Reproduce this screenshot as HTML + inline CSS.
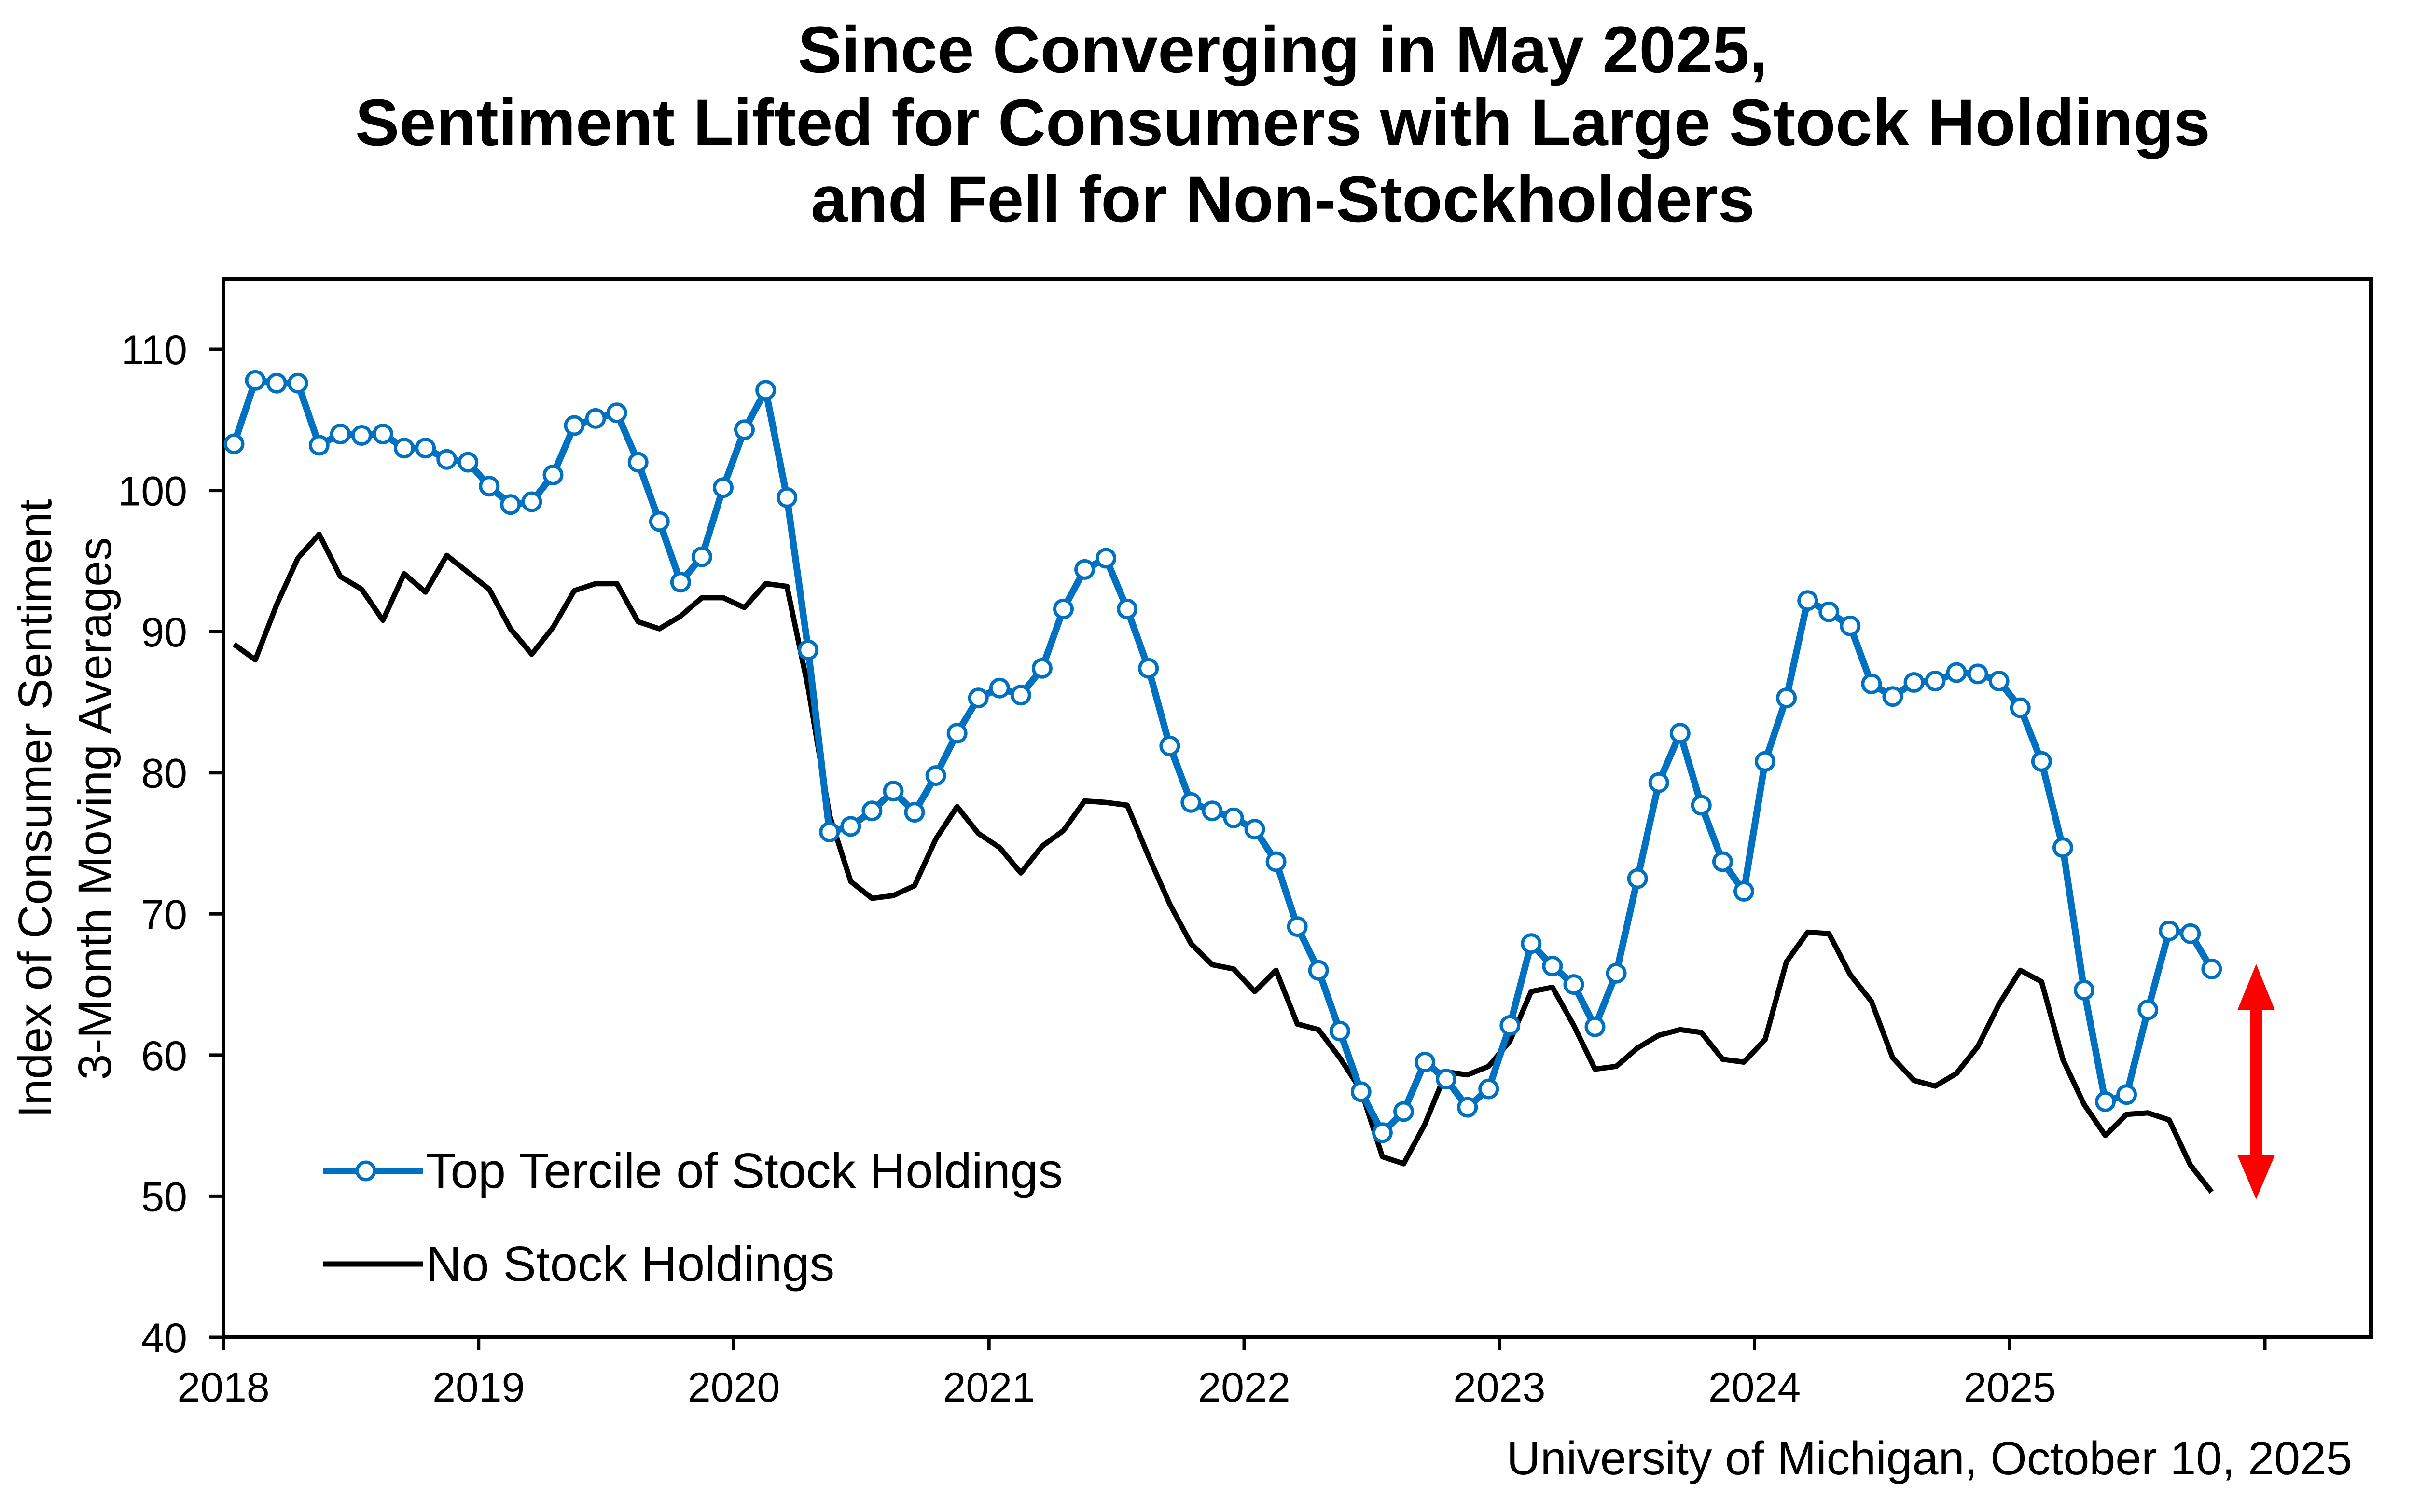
<!DOCTYPE html>
<html><head><meta charset="utf-8"><style>
html,body{margin:0;padding:0;background:#fff;}
svg{display:block;}
text{font-family:"Liberation Sans",Arial,sans-serif;fill:#000;}
</style></head><body>
<svg id="s" width="5120" height="3134" viewBox="0 0 5120 3134" xmlns="http://www.w3.org/2000/svg">
<rect width="5120" height="3134" fill="#fff"/>
<text x="2658" y="150" font-size="137" font-weight="bold" text-anchor="middle">Since Converging in May 2025,</text>
<text x="2658" y="301" font-size="137" font-weight="bold" text-anchor="middle">Sentiment Lifted for Consumers with Large Stock Holdings</text>
<text x="2658" y="460" font-size="137" font-weight="bold" text-anchor="middle">and Fell for Non-Stockholders</text>
<g id="g"></g>
<text transform="translate(106,1676) rotate(-90)" font-size="97" text-anchor="middle">Index of Consumer Sentiment</text>
<text transform="translate(230,1676) rotate(-90)" font-size="97" text-anchor="middle">3-Month Moving Averages</text>
<text x="4874" y="3056" font-size="97" text-anchor="end">University of Michigan, October 10, 2025</text>
<line x1="670" y1="2427" x2="876" y2="2427" stroke="#0070C0" stroke-width="14"/>
<circle cx="758" cy="2427" r="18" fill="#fff" stroke="#0070C0" stroke-width="7"/>
<text x="882" y="2462" font-size="103">Top Tercile of Stock Holdings</text>
<line x1="670" y1="2620" x2="876" y2="2620" stroke="#000" stroke-width="11"/>
<text x="882" y="2655" font-size="103">No Stock Holdings</text>
<rect x="4662" y="2090" width="26" height="310" fill="#f00"/>
<polygon points="4675,1998 4636,2094 4714,2094" fill="#f00"/>
<polygon points="4675,2486 4636,2394 4714,2394" fill="#f00"/>
</svg>
<script>
(function(){
var L=463,R=4913,T=578,B=2772;
function Y(v){return B-(v-40)*(B-724)/70;}
var yr=528.75;
function X(i){return L+(i+0.5)*yr/12;}
var tt=[103.3,107.8,107.6,107.6,103.2,104,103.9,104,103,103,102.2,102,
100.3,99,99.2,101.1,104.6,105.1,105.5,102,97.8,93.5,95.3,100.2,
104.3,107.1,99.5,88.7,75.8,76.2,77.3,78.7,77.2,79.8,82.8,85.3,
86,85.5,87.4,91.6,94.4,95.2,91.6,87.4,81.9,77.9,77.3,76.8,
76,73.7,69.1,66,61.7,57.4,54.5,56,59.5,58.3,56.3,57.6,
62.1,67.9,66.3,65,62,65.8,72.5,79.3,82.8,77.7,73.7,71.6,
80.8,85.3,92.2,91.4,90.4,86.3,85.4,86.4,86.5,87.1,87,86.5,
84.6,80.8,74.7,64.6,56.7,57.2,63.2,68.8,68.6,66.1];
var no=[89.1,88,91.9,95.2,96.9,93.9,93,90.8,94.1,92.8,95.4,94.2,
93,90.2,88.4,90.3,92.9,93.4,93.4,90.7,90.2,91.1,92.4,92.4,
91.7,93.4,93.2,86,77,72.3,71.1,71.3,72,75.3,77.6,75.7,
74.7,72.9,74.8,75.9,78,77.9,77.7,74.1,70.7,67.9,66.4,66.1,
64.5,66,62.2,61.8,59.8,57.5,52.8,52.3,55.1,58.8,58.6,59.2,
61,64.5,64.8,62.1,59,59.2,60.5,61.4,61.8,61.6,59.7,59.5,
61.1,66.6,68.7,68.6,65.7,63.8,59.8,58.2,57.8,58.7,60.6,63.6,
66,65.2,59.7,56.5,54.3,55.8,55.9,55.4,52.2,50.3];
var h='';
h+='<rect x="'+L+'" y="'+T+'" width="'+(R-L)+'" height="'+(B-T)+'" fill="none" stroke="#000" stroke-width="8"/>';
for(var v=40;v<=110;v+=10){var y=Y(v);h+='<line x1="'+(L-30)+'" y1="'+y+'" x2="'+L+'" y2="'+y+'" stroke="#000" stroke-width="7"/>';
h+='<text x="388" y="'+(y+31)+'" font-size="86" text-anchor="end">'+v+'</text>';}
for(var k=0;k<=8;k++){var x=L+k*yr;h+='<line x1="'+x+'" y1="'+B+'" x2="'+x+'" y2="'+(B+27)+'" stroke="#000" stroke-width="7"/>';
if(k<8)h+='<text x="'+x+'" y="2905" font-size="86" text-anchor="middle">'+(2018+k)+'</text>';}
var p1=no.map(function(v,i){return X(i).toFixed(1)+','+Y(v).toFixed(1)}).join(' ');
h+='<polyline points="'+p1+'" fill="none" stroke="#000" stroke-width="11" stroke-linejoin="round"/>';
var p2=tt.map(function(v,i){return X(i).toFixed(1)+','+Y(v).toFixed(1)}).join(' ');
h+='<polyline points="'+p2+'" fill="none" stroke="#0070C0" stroke-width="14" stroke-linejoin="round"/>';
tt.forEach(function(v,i){h+='<circle cx="'+X(i).toFixed(1)+'" cy="'+Y(v).toFixed(1)+'" r="18" fill="#fff" stroke="#0070C0" stroke-width="7"/>';});
document.getElementById('g').innerHTML=h;
})();
</script>
</body></html>
